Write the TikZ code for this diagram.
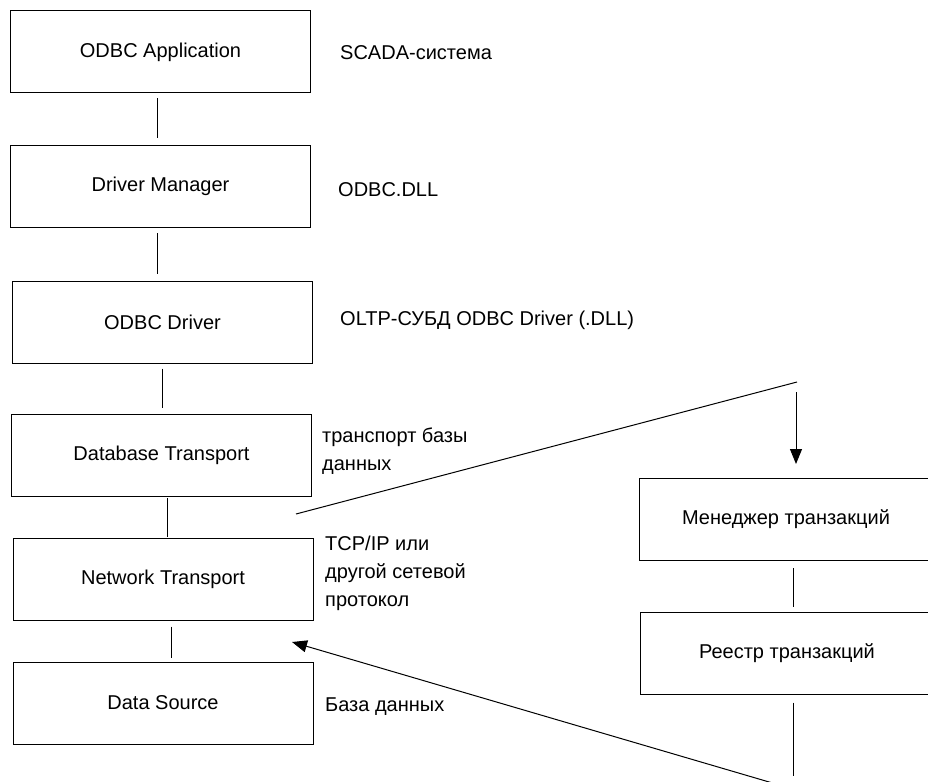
\documentclass[tikz,border=0pt]{standalone}
\usepackage{fontspec}
\setmainfont{Liberation Sans}
\usetikzlibrary{arrows.meta, positioning}

\begin{document}
\begin{tikzpicture}[x=1pt, y=-1pt, font=\fontsize{20}{28}\selectfont,
    box/.style={draw, line width=1pt, minimum width=300pt, minimum height=82pt, inner sep=0pt},
    wide/.style={box, minimum width=294pt},
    note/.style={anchor=west, align=left, inner sep=0pt},
    link/.style={line width=1pt, shorten <=5pt, shorten >=7pt},
    tip/.style={line width=1pt, arrows=-{Triangle[length=15pt, width=12pt]}}]
            \useasboundingbox (0,0) rectangle (928,781);
            \clip (0,0) rectangle (928,781);

            % left column
            \node[box] (app) at (160.5,52) {ODBC Application};
            \node[box] (mgrdll) at (160.5,186.5) {Driver Manager};
            \node[box] (drv) at (162.5,322) {ODBC Driver};
            \node[box] (dbt) at (161.5,455.5) {Database Transport};
            \node[box] (net) at (163,579) {Network Transport};
            \node[box] (src) at (163,703) {Data Source};

            \draw[link] ([xshift=-3.5pt]app.south) -- ([xshift=-3.5pt]mgrdll.north);
            \draw[link] ([xshift=-3.5pt]mgrdll.south) -- ([xshift=-5.5pt]drv.north);
            \draw[link, shorten >=6pt] ([xshift=-0.5pt]drv.south) -- ([xshift=0.5pt]dbt.north);
            \draw[link, shorten <=1pt, shorten >=1pt] ([xshift=5.5pt]dbt.south) -- ([xshift=4pt]net.north);
            \draw[link, shorten <=6pt, shorten >=4pt] ([xshift=8pt]net.south) -- ([xshift=8pt]src.north);

            % notes
            \node[note] (n1) at (340,53) {SCADA-система};
            \node[note] (n2) at (338,190) {ODBC.DLL};
            \node[note] (n3) at (340,320) {OLTP-СУБД ODBC Driver (.DLL)};
            \node[note] (n4) at (322,451) {транспорт базы\\данных};
            \node[note] (n5) at (325,573) {TCP/IP или\\другой сетевой\\протокол};
            \node[note] (n6) at (325,707) {База данных};

            % right column
            \node[wide] (tmgr) at (786,519.5) {Менеджер транзакций};
            \node[wide] (treg) at (787,653) {Реестр транзакций};

            \coordinate (cut) at (797,382);
            \coordinate (cutL) at (296,514);
            \coordinate (down) at (796,392);
            \coordinate (foot) at (793,776);
            \coordinate (back) at (793,789);
            \coordinate (back2) at (292,642);

            \draw[line width=1pt] (cutL) -- (cut);
            \draw[tip, shorten >=14pt] (down) -- ([xshift=10pt]tmgr.north);
            \draw[link, shorten <=7pt, shorten >=5pt] ([xshift=7pt]tmgr.south) -- ([xshift=6pt]treg.north);
            \draw[line width=1pt, shorten <=8pt] ([xshift=6pt]treg.south) -- (foot);
            \draw[tip] (back) -- (back2);
        \end{tikzpicture}
\end{document}
